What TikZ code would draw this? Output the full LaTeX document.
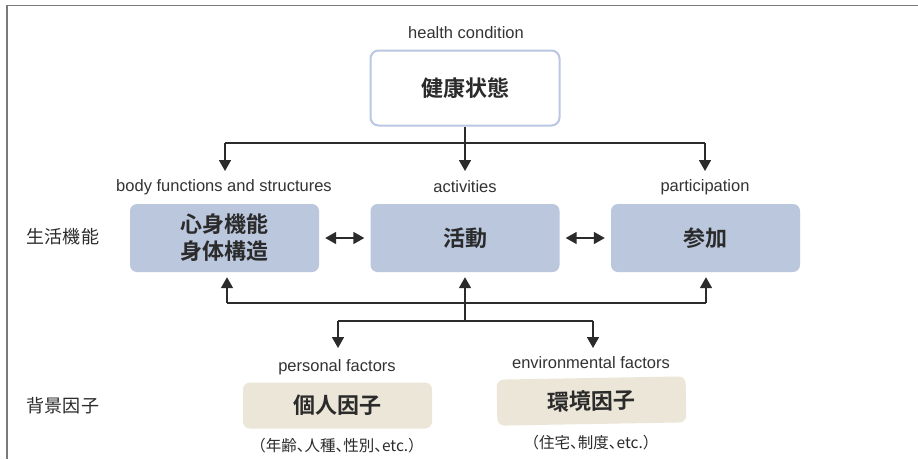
\documentclass[tikz,border=0pt]{standalone}
\usepackage{fontspec}
\setmainfont{Liberation Sans}
\newfontfamily\cjk{Noto Sans CJK JP}
\newfontfamily\cjkhalt[RawFeature=+halt]{Noto Sans CJK JP}
\newfontfamily\cjkb{Noto Sans CJK JP Bold}
\usetikzlibrary{arrows.meta}
\definecolor{boxblue}{HTML}{BAC7DD}
\definecolor{boxbeige}{HTML}{EBE6D7}
\definecolor{hborder}{HTML}{B9C7E2}
\definecolor{txt}{HTML}{2B2B2B}
\definecolor{lbl}{HTML}{333333}
\definecolor{framec}{HTML}{7A7A7A}
\tikzset{
  x=1pt,y=-1pt,
  bluebox/.style={fill=boxblue,rounded corners=7pt,minimum width=189pt,minimum height=68pt,inner sep=0pt,
    font=\cjkb\fontsize{22}{26}\selectfont,text=txt,align=center},
  beigebox/.style={fill=boxbeige,rounded corners=7pt,minimum width=189pt,minimum height=46pt,inner sep=0pt,
    font=\cjkb\fontsize{22}{26}\selectfont,text=txt},
  healthbox/.style={draw=hborder,line width=2pt,fill=white,rounded corners=8pt,minimum width=189pt,minimum height=75pt,
    inner sep=0pt,font=\cjkb\fontsize{22}{26}\selectfont,text=txt},
  enlabel/.style={font=\fontsize{16.5}{19}\selectfont,text=lbl,inner sep=0pt},
  sidelabel/.style={font=\cjk\fontsize{18}{22}\selectfont,text=txt,inner sep=0pt},
  notelabel/.style={font=\cjkhalt\fontsize{15.5}{18}\selectfont,text=txt,inner sep=0pt},
  conn/.style={draw=txt,line width=1.6pt},
  arr/.style={conn,-{Triangle[width=12pt,length=11pt]}},
  darr/.style={conn,{Triangle[width=12pt,length=11pt]}-{Triangle[width=12pt,length=11pt]},shorten >=6pt,shorten <=6pt},
}
\begin{document}
\begin{tikzpicture}
\useasboundingbox (0,0) rectangle (918,459);
\fill[white] (0,0) rectangle (918,459);
% frame
\draw[framec,line width=1.8pt] (7,459) -- (7,5.5) -- (918,5.5);

% nodes
\node[enlabel] (hcl) at (466,33) {health condition};
\node[healthbox] (hc) at (465,88) {健康状態};

\node[enlabel] (bfl) at (224,187) {body functions and structures};
\node[enlabel] (acl) at (465,187) {activities};
\node[enlabel] (pal) at (705,187) {participation};

\node[bluebox,font=\cjkb\fontsize{22}{27}\selectfont] (bf) at (224.5,238) {心身機能\\身体構造};
\node[bluebox] (ac) at (465,238) {活動};
\node[bluebox] (pa) at (705.5,238) {参加};

\node[sidelabel] (sl1) at (63,237) {生活機能};
\node[sidelabel] (sl2) at (63,406) {背景因子};

\node[enlabel] (pfl) at (337,367) {personal factors};
\node[enlabel] (efl) at (591,363) {environmental factors};

\node[beigebox] (pf) at (337.5,405.5) {個人因子};
\node[beigebox,rotate=1] (ef) at (591.5,401) {環境因子};

\node[notelabel] (pfn) at (337,446) {（年齢、人種、性別、etc.）};
\node[notelabel] (efn) at (591,443) {（住宅、制度、etc.）};

% coordinates
\coordinate (t0) at (465,143);
\coordinate (tl) at (225,143);
\coordinate (tr) at (705,143);
\coordinate (al) at (225,171);
\coordinate (am) at (465,171);
\coordinate (ar) at (705,171);

\coordinate (ul) at (227,303);
\coordinate (ur) at (706,303);
\coordinate (um) at (465,321);
\coordinate (ll) at (338,321);
\coordinate (lr) at (593,321);
\coordinate (dl) at (338,348);
\coordinate (dr) at (593,348);

% top connectors
\draw[conn] (hc.south) -- (t0);
\draw[conn] (tl) -- (tr);
\draw[arr] (tl) -- (al);
\draw[arr] (t0) -- (am);
\draw[arr] (tr) -- (ar);

% double arrows
\draw[darr] (bf.east) -- (ac.west);
\draw[darr] (ac.east) -- (pa.west);

% bottom connectors
\draw[conn] (ul) -- (ur);
\draw[arr,shorten >=5pt] (ul) -- (ul |- bf.south);
\draw[arr,shorten >=5pt] (ur) -- (ur |- pa.south);
\draw[arr,shorten >=5pt] (um) -- (ac.south);
\draw[conn] (ll) -- (lr);
\draw[arr] (ll) -- (dl);
\draw[arr] (lr) -- (dr);
\end{tikzpicture}
\end{document}
